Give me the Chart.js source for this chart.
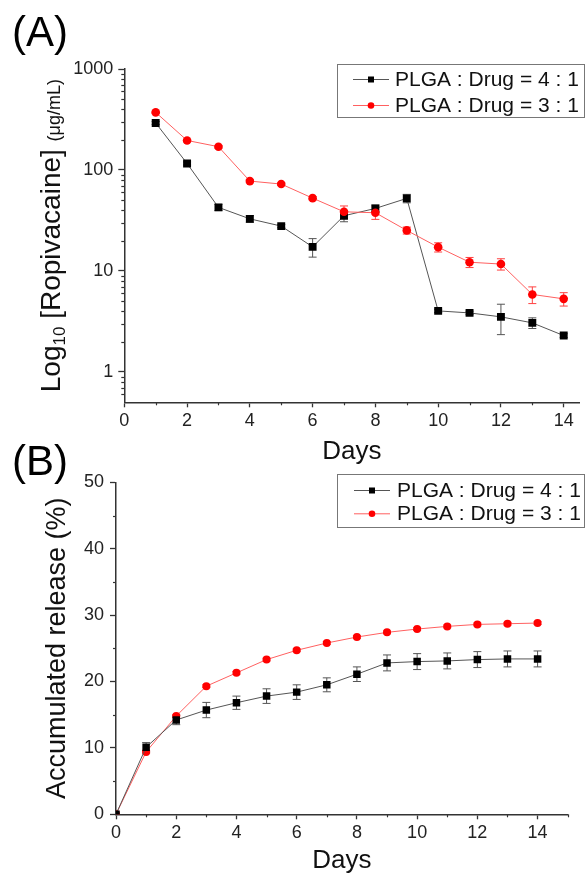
<!DOCTYPE html>
<html><head><meta charset="utf-8">
<script src="https://cdn.jsdelivr.net/npm/chart.js@4.4.1/dist/chart.umd.min.js"></script>
<style>
html,body{margin:0;padding:0;background:#fff;}
#wrap{position:relative;width:585px;height:873px;overflow:hidden;background:#fff;}
canvas{position:absolute;left:0;}
#cA{top:0;} #cB{top:440px;}
</style></head><body>
<div id="wrap"><canvas id="cA" width="585" height="490"></canvas><canvas id="cB" width="585" height="433"></canvas></div>
<script>
// ---------- DATA ----------
const seriesNames = ['PLGA : Drug = 4 : 1', 'PLGA : Drug = 3 : 1'];

// Panel A: concentration (log scale)
const daysA = [1,2,3,4,5,6,7,8,9,10,11,12,13,14];
const concA_41 = [292,116,42.6,32.8,27.8,17.3,35.2,41.6,52.3,4.02,3.84,3.51,3.06,2.29];
const concA_41_err = [10,4,3,2.5,1,3.6,4.5,3.3,5,0.15,0.15,1.17,0.37,0.1];
const concA_31 = [372,196,170,77.6,72.5,52.6,38.5,37.7,25.2,17.2,12.2,11.7,5.85,5.29];
const concA_31_err = [10,5,5,3,2,2,5.5,5.3,2,1.8,1.4,1.5,1.1,0.8];
const xTicksA = [0,2,4,6,8,10,12,14];
const yTicksA = [1,10,100,1000];
const yTickLabelsA = ['1','10','100','1000'];

// Panel B: accumulated release (%)
const daysB = [0,1,2,3,4,5,6,7,8,9,10,11,12,13,14];
const relB_41 = [0,10.1,14.2,15.7,16.8,17.8,18.4,19.5,21.1,22.8,23.0,23.1,23.3,23.4,23.4];
const relB_41_err = [0,0.7,0.7,1.15,1.0,1.1,1.1,1.05,1.1,1.2,1.2,1.2,1.2,1.2,1.2];
const relB_31 = [0,9.4,14.8,19.3,21.3,23.3,24.7,25.8,26.7,27.4,27.9,28.3,28.6,28.7,28.8];
const relB_31_err = [0,0.2,0.2,0.2,0.2,0.2,0.2,0.2,0.2,0.2,0.2,0.2,0.2,0.2,0.2];
const xTicksB = [0,2,4,6,8,10,12,14];
const yTicksB = [0,10,20,30,40,50];

// ---------- STYLE ----------
const FONT = '"Liberation Sans", Arial, Helvetica, sans-serif';
const AXIS = '#333';
const BLACK_LINE = '#555';
const RED = '#ff0000';
const RED_LINE = '#ff6060';

const pts = (xs, ys) => xs.map((x,i)=>({x:x, y:ys[i]}));

const errorBars = {
  id:'errorBars',
  beforeDatasetsDraw(chart){
    const ctx = chart.ctx, xs = chart.scales.x, ys = chart.scales.y;
    chart.data.datasets.forEach(ds=>{
      if(!ds.errors) return;
      ctx.save();
      ctx.strokeStyle = ds.errColor; ctx.lineWidth = 1;
      ds.data.forEach((p,j)=>{
        const e = ds.errors[j]; if(!e) return;
        const px = xs.getPixelForValue(p.x);
        const yt = ys.getPixelForValue(p.y+e);
        const yb = ys.getPixelForValue(Math.max(p.y-e, 1e-3));
        ctx.beginPath();
        ctx.moveTo(px,yt); ctx.lineTo(px,yb);
        ctx.moveTo(px-4,yt); ctx.lineTo(px+4,yt);
        ctx.moveTo(px-4,yb); ctx.lineTo(px+4,yb);
        ctx.stroke();
      });
      ctx.restore();
    });
  }
};

const decor = {
  id:'decor',
  afterDraw(chart, args, o){
    const ctx = chart.ctx, ca = chart.chartArea;
    const xs = chart.scales.x, ys = chart.scales.y;
    ctx.save();
    // minor ticks
    ctx.strokeStyle = AXIS; ctx.lineWidth = 1.2;
    o.minorX.forEach(v=>{
      const px = Math.round(xs.getPixelForValue(v))+0.5;
      ctx.beginPath(); ctx.moveTo(px, ca.bottom); ctx.lineTo(px, ca.bottom+3); ctx.stroke();
    });
    o.minorY.forEach(v=>{
      const py = Math.round(ys.getPixelForValue(v))+0.5;
      ctx.beginPath(); ctx.moveTo(ca.left, py); ctx.lineTo(ca.left-3, py); ctx.stroke();
    });
    // panel label
    ctx.fillStyle = '#000';
    ctx.font = '42px ' + FONT;
    ctx.textAlign = 'left'; ctx.textBaseline = 'alphabetic';
    ctx.fillText(o.panel, 12, o.panelY);
    // x title
    ctx.font = '26px ' + FONT; ctx.fillStyle = '#111';
    ctx.textAlign = 'center';
    ctx.fillText(o.xTitle, (ca.left+ca.right)/2, o.xTitleY);
    // y title (rotated, mixed segments)
    ctx.save();
    const cy = (ca.top+ca.bottom)/2;
    ctx.translate(o.yTitleX, cy);
    ctx.rotate(-Math.PI/2);
    ctx.textAlign = 'left';
    let total = 0;
    o.yTitle.forEach(s=>{ ctx.font = s.size+'px '+FONT; total += ctx.measureText(s.t).width; });
    let x = -total/2;
    o.yTitle.forEach(s=>{
      ctx.font = s.size+'px '+FONT;
      ctx.fillText(s.t, x, s.dy||0);
      x += ctx.measureText(s.t).width;
    });
    ctx.restore();
    // legend
    const L = o.legend;
    ctx.strokeStyle = '#777'; ctx.lineWidth = 1;
    ctx.strokeRect(L.x1+0.5, L.y1+0.5, L.x2-L.x1, L.y2-L.y1);
    chart.data.datasets.forEach((ds,i)=>{
      const ry = L.rows[i];
      ctx.strokeStyle = ds.borderColor; ctx.lineWidth = 1;
      ctx.beginPath(); ctx.moveTo(L.lx1, ry+0.5); ctx.lineTo(L.lx2, ry+0.5); ctx.stroke();
      ctx.fillStyle = ds.pointBackgroundColor;
      const mx = (L.lx1+L.lx2)/2;
      if(ds.pointStyle==='rect'){ ctx.fillRect(mx-3, ry-2.5, 6, 6); }
      else { ctx.beginPath(); ctx.arc(mx, ry+0.5, 3.3, 0, Math.PI*2); ctx.fill(); }
      ctx.fillStyle = '#111';
      ctx.font = '21px ' + FONT; ctx.textAlign = 'left'; ctx.textBaseline = 'middle';
      ctx.fillText(ds.label, L.tx, ry+1);
    });
    ctx.restore();
  }
};

function axisCommon(){
  return {
    grid:{drawOnChartArea:false, drawTicks:true, tickLength:5, color:AXIS, tickColor:AXIS, tickWidth:1.3},
    border:{color:AXIS, width:1.5},
    ticks:{font:{family:FONT, size:18}, color:'#222', maxRotation:0, autoSkip:false}
  };
}

// ---------- CHART A ----------
{
  const xa = axisCommon(); const ya = axisCommon();
  xa.ticks.padding = 3; ya.ticks.padding = 5; ya.grid.tickLength = 6;
  xa.ticks.callback = (v) => String(v);
  ya.ticks.callback = (v, i) => yTickLabelsA[i];
  const minorYA = [];
  [0.1,1,10,100].forEach(d=>{ for(let k=2;k<=9;k++){ const v=k*d; if(v>=0.6 && v<1000) minorYA.push(v);} });
  new Chart(document.getElementById('cA'), {
    type:'line',
    data:{datasets:[
      {label:seriesNames[0], data:pts(daysA, concA_41), errors:concA_41_err, errColor:'#555',
       borderColor:BLACK_LINE, borderWidth:1, pointStyle:'rect', pointRadius:5.6,
       pointBackgroundColor:'#000', pointBorderColor:'#000', pointBorderWidth:0, order:1},
      {label:seriesNames[1], data:pts(daysA, concA_31), errors:concA_31_err, errColor:'#ff4040',
       borderColor:RED_LINE, borderWidth:1, pointStyle:'circle', pointRadius:4.3,
       pointBackgroundColor:RED, pointBorderColor:RED, pointBorderWidth:0, order:0}
    ]},
    options:{
      responsive:false, animation:false, devicePixelRatio:1,
      layout:{padding:{top:69, right:2, left:0, bottom:0}},
      plugins:{legend:{display:false}, tooltip:{enabled:false},
        decor:{panel:'(A)', panelY:46, xTitle:'Days', xTitleY:459, yTitleX:60,
          yTitle:[{t:'Log',size:28},{t:'10',size:17,dy:5},{t:' [Ropivacaine] ',size:28},{t:'(μg/mL)',size:18}],
          minorX:[1,3,5,7,9,11,13], minorY:minorYA,
          legend:{x1:337, y1:64, x2:584, y2:117, rows:[79,105], lx1:353, lx2:389, tx:395}}
      },
      scales:{
        x:Object.assign(xa, {type:'linear', min:0, max:14.5,
          afterFit(s){ s.height = 87.7; },
          afterBuildTicks(s){ s.ticks = xTicksA.map(v=>({value:v})); }}),
        y:Object.assign(ya, {type:'logarithmic', min:0.5, max:1000,
          afterFit(s){ s.width = 124.3; },
          afterBuildTicks(s){ s.ticks = yTicksA.map(v=>({value:v})); }})
      }
    },
    plugins:[errorBars, decor]
  });
}

// ---------- CHART B ----------
{
  const xb = axisCommon(); const yb = axisCommon();
  xb.ticks.padding = 3; yb.ticks.padding = 6; yb.grid.tickLength = 6;
  xb.ticks.callback = (v) => String(v);
  yb.ticks.callback = (v) => String(v);
  new Chart(document.getElementById('cB'), {
    type:'line',
    data:{datasets:[
      {label:seriesNames[0], data:pts(daysB, relB_41), errors:relB_41_err, errColor:'#555',
       borderColor:BLACK_LINE, borderWidth:1, pointStyle:'rect', pointRadius:5.3,
       pointBackgroundColor:'#000', pointBorderColor:'#000', pointBorderWidth:0, order:0},
      {label:seriesNames[1], data:pts(daysB, relB_31), errors:relB_31_err, errColor:'#ff4040',
       borderColor:RED_LINE, borderWidth:1, pointStyle:'circle', pointRadius:4,
       pointBackgroundColor:RED, pointBorderColor:RED, pointBorderWidth:0, order:1}
    ]},
    options:{
      responsive:false, animation:false, devicePixelRatio:1,
      layout:{padding:{top:42.3, right:17.3, left:0, bottom:0}},
      plugins:{legend:{display:false}, tooltip:{enabled:false},
        decor:{panel:'(B)', panelY:35, xTitle:'Days', xTitleY:428, yTitleX:64.5,
          yTitle:[{t:'Accumulated release (%)',size:27}],
          minorX:[1,3,5,7,9,11,13,15], minorY:[5,15,25,35,45],
          legend:{x1:337, y1:34, x2:584, y2:87, rows:[50,73.3], lx1:354, lx2:390, tx:397}}
      },
      scales:{
        x:Object.assign(xb, {type:'linear', min:0, max:15,
          afterFit(s){ s.height = 58.7; },
          afterBuildTicks(s){ s.ticks = xTicksB.map(v=>({value:v})); }}),
        y:Object.assign(yb, {type:'linear', min:0, max:50,
          afterFit(s){ s.width = 116; },
          afterBuildTicks(s){ s.ticks = yTicksB.map(v=>({value:v})); }})
      }
    },
    plugins:[errorBars, decor]
  });
}
</script>
</body></html>
